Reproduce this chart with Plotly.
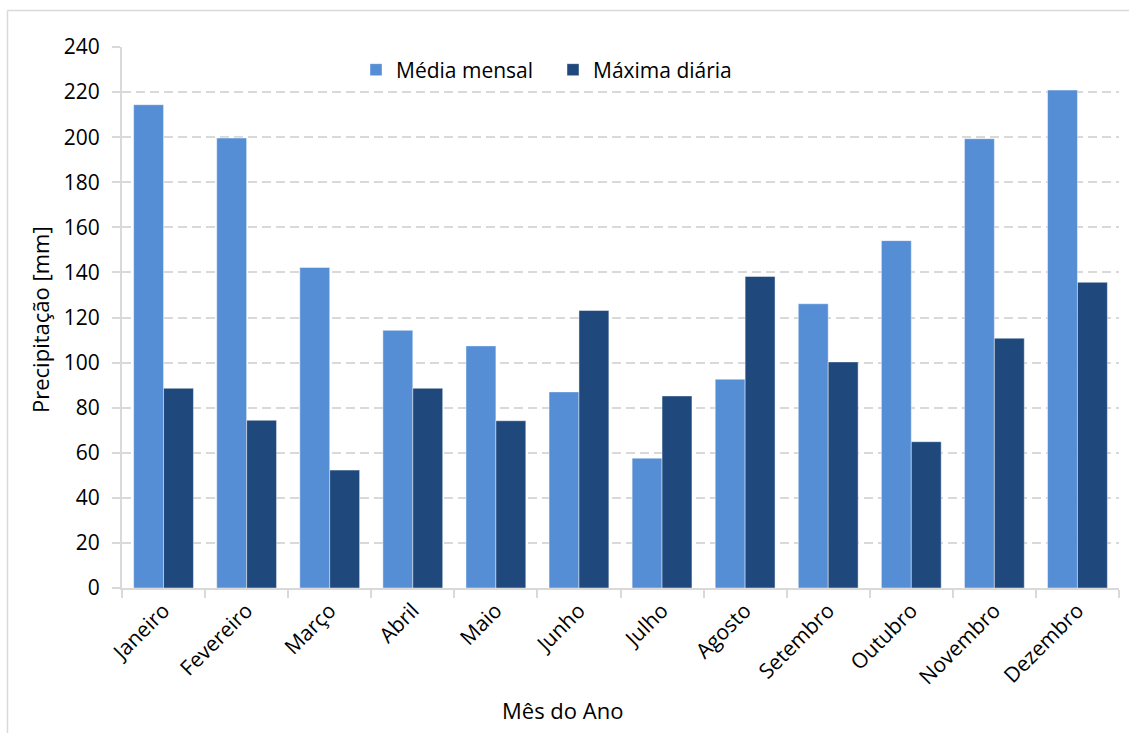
import plotly.graph_objects as go

meses = ["Janeiro", "Fevereiro", "Março", "Abril", "Maio", "Junho",
         "Julho", "Agosto", "Setembro", "Outubro", "Novembro", "Dezembro"]
media_mensal = [214.4, 199.6, 142.2, 114.3, 107.4, 87.0, 57.6, 92.6, 126.1, 154.1, 199.3, 220.9]
maxima_diaria = [88.6, 74.4, 52.3, 88.6, 74.2, 123.1, 85.2, 138.2, 100.3, 64.9, 110.8, 135.6]
y_ticks = [0, 20, 40, 60, 80, 100, 120, 140, 160, 180, 200, 220, 240]

W, H = 1129, 733
L, R, T, B = 122, 10, 47, 145
PW, PH = W - L - R, H - T - B

def px_x(px):
    return (px - L) / PW

def px_y(py):
    return (H - B - py) / PH

FONT = "Open Sans"
GRID = "#d9d9d9"

fig = go.Figure()
fig.add_trace(go.Bar(x=meses, y=media_mensal, name="Média mensal",
                     marker=dict(color="#558ED5", line=dict(color="rgba(255,255,255,0.55)", width=0.8))))
fig.add_trace(go.Bar(x=meses, y=maxima_diaria, name="Máxima diária",
                     marker=dict(color="#1F497D", line=dict(color="rgba(255,255,255,0.55)", width=0.8))))

fig.update_layout(
    width=W, height=H,
    margin=dict(l=L, r=R, t=T, b=B, pad=0),
    paper_bgcolor="white", plot_bgcolor="white",
    barmode="group", bargap=0.28, bargroupgap=0,
    font=dict(family=FONT, size=21, color="#000000"),
    showlegend=True,
    legend=dict(orientation="h", x=px_x(356), xanchor="left", y=px_y(70), yanchor="middle",
                bgcolor="rgba(0,0,0,0)", font=dict(family=FONT, size=21, color="#000000"),
                itemwidth=30, traceorder="normal", entrywidth=152, entrywidthmode="pixels"),
    xaxis=dict(type="category", showgrid=False, showline=True, linecolor=GRID, linewidth=2,
               ticks="outside", tickson="boundaries", ticklen=8, tickcolor=GRID, tickwidth=2,
               tickangle=-45, tickfont=dict(family=FONT, size=21, color="#000000"),
               zeroline=False),
    yaxis=dict(range=[0, 240], tickmode="array", tickvals=y_ticks, ticktext=[str(v) for v in y_ticks],
               showgrid=True, gridcolor=GRID, gridwidth=2, griddash="9px,5px",
               showline=True, linecolor=GRID, linewidth=2,
               ticks="outside", ticklen=8, tickcolor=GRID, tickwidth=2,
               ticklabelstandoff=8,
               tickfont=dict(family=FONT, size=21, color="#000000"), zeroline=False),
)

fig.add_annotation(text="Precipitação [mm]", xref="paper", yref="paper",
                   x=px_x(40), y=px_y(320), textangle=-90, showarrow=False,
                   xanchor="center", yanchor="middle",
                   font=dict(family=FONT, size=22, color="#000000"))
fig.add_annotation(text="Mês do Ano", xref="paper", yref="paper",
                   x=px_x(562), y=px_y(710), showarrow=False,
                   xanchor="center", yanchor="middle",
                   font=dict(family=FONT, size=22, color="#000000"))

# outer chart border (left and top visible)
fig.add_shape(type="line", xref="paper", yref="paper", x0=px_x(7.5), x1=px_x(7.5),
              y0=px_y(10.5), y1=px_y(740), line=dict(color=GRID, width=1.5), layer="below")
fig.add_shape(type="line", xref="paper", yref="paper", x0=px_x(7.5), x1=px_x(1140),
              y0=px_y(10.5), y1=px_y(10.5), line=dict(color=GRID, width=1.5), layer="below")

fig.write_html("out.html")
